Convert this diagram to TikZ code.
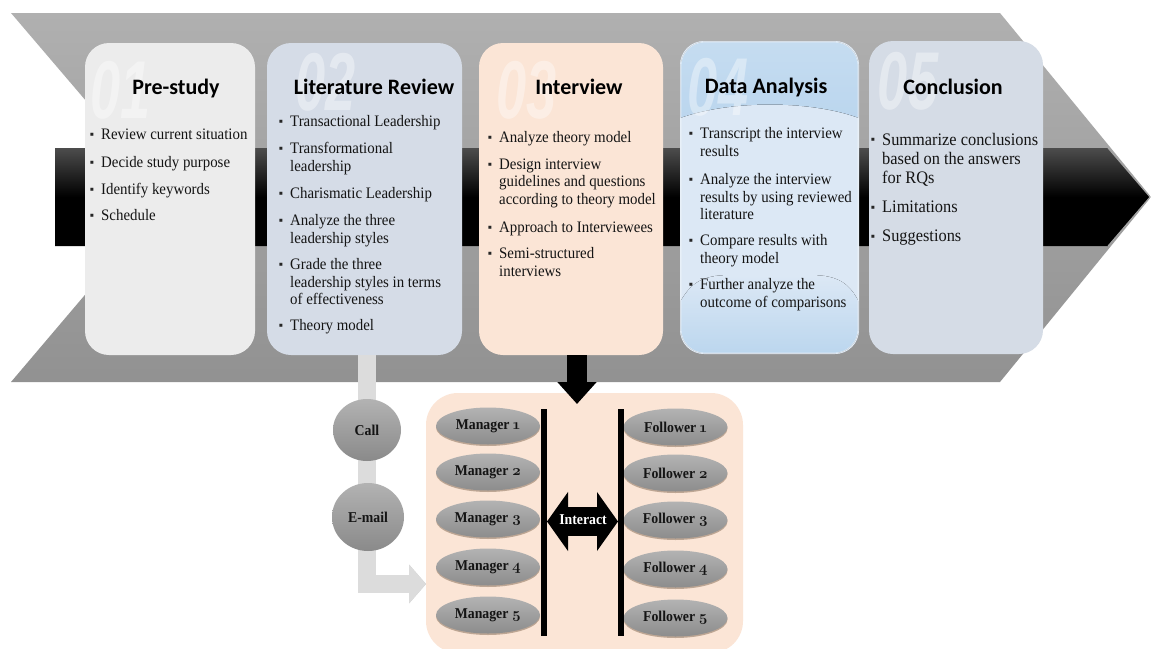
\documentclass[tikz,border=0pt]{standalone}
\usepackage{fontspec}
\setmainfont{Liberation Serif}
\newfontfamily\headf{Carlito}
\newfontfamily\ghostf{Liberation Sans}
\newfontfamily\bodyf[FakeStretch=0.93]{Liberation Serif}
\newfontfamily\labf[FakeStretch=0.92]{Liberation Serif}
\newfontfamily\osf[Numbers=OldStyle]{Latin Modern Roman}
\usetikzlibrary{shapes.geometric,arrows.meta,calc}
\definecolor{cardA}{HTML}{ECECEC}
\definecolor{cardB}{HTML}{D5DCE7}
\definecolor{cardC}{HTML}{FBE5D6}
\definecolor{cardD}{HTML}{DCE8F5}
\definecolor{cardE}{HTML}{D5DCE6}
\definecolor{glossD}{HTML}{BBD6EE}
\definecolor{lightconn}{HTML}{DCDCDC}
\pgfdeclareverticalshading{bargrad}{100bp}{color(0bp)=(black); color(50bp)=(black); color(75bp)=(black!70!white); color(100bp)=(black!70!white)}
\tikzset{
  card/.style={rounded corners=24pt,inner sep=0pt,draw=none},
  head/.style={font=\headf\bfseries\fontsize{22}{24}\selectfont,inner sep=0pt,text=black},
  ghost/.style={font=\ghostf\bfseries\itshape\fontsize{82}{82}\selectfont,text=white,text opacity=.38,inner sep=0pt},
  itm/.style={anchor=north west,inner sep=0pt,align=left,text=black!92!white,yshift=-3.5pt,font=\bodyf\fontsize{16}{17.4}\selectfont},
  itme/.style={itm,font=\bodyf\fontsize{17.6}{19}\selectfont},
  bul/.style={inner sep=0pt,yshift=-2pt,font=\fontsize{12}{12}\selectfont,text=black!85!white},
  oval/.style={ellipse,inner sep=0pt,minimum width=104pt,minimum height=37pt,top color=black!30!white,bottom color=black!45!white,font=\labf\bfseries\fontsize{15}{16}\selectfont,text=black!92!white},
  disc/.style={ellipse,inner sep=0pt,top color=black!30!white,bottom color=black!46!white,font=\labf\bfseries\fontsize{15}{16}\selectfont,text=black!92!white},
  shad/.style={ellipse,inner sep=0pt,minimum width=104pt,minimum height=37pt,fill=black!60!brown,opacity=.35},
  barline/.style={line width=6pt,black}
}
\newcommand{\ob}[2]{\node[itm] (#1) at (#2) }
\newcommand{\gn}[1]{\scalebox{.66}[1]{#1}}
\begin{document}
\begin{tikzpicture}[x=1pt,y=-1pt]
\useasboundingbox (0,0) rectangle (1151,648);
\clip (0,0) rectangle (1151,648);
\fill[white] (0,0) rectangle (1151,648);
% chevron
\path[top color=black!31!white,bottom color=black!43!white] (11,13) -- (1000,13) -- (1151,197) -- (1000,382) -- (11,382) -- (168,197) -- cycle;
% black bar
\path[shading=bargrad] (55,148) -- (1108,148) -- (1150,197) -- (1108,246) -- (55,246) -- cycle;
\draw[black!35!white,line width=1pt] (1108,148) -- (1150,197) -- (1108,246);
% cards
\node[card,fill=cardA,minimum width=170pt,minimum height=312pt] (c1) at (170,199) {};
\node[card,fill=cardB,minimum width=195pt,minimum height=312pt] (c2) at (364.5,199) {};
\node[card,fill=cardC,minimum width=184pt,minimum height=312pt] (c3) at (571,199) {};
\node[card,fill=cardD,minimum width=179pt,minimum height=313pt] (c4) at (769.5,197.5) {};
\node[card,fill=cardE,minimum width=174pt,minimum height=313pt] (c5) at (956,197.5) {};
% gloss of card 4
\begin{scope}
\clip[rounded corners=24pt] (680.8,41.8) rectangle (858.2,353.2);
\fill[top color=glossD!85!white,bottom color=glossD] (680,41) -- (859,41) -- (859,118) .. controls (810,100) and (730,100) .. (680,118) -- cycle;
\fill[top color=cardD,bottom color=glossD] (680,302) .. controls (690,285) and (700,275) .. (730,275) -- (810,275) .. controls (840,275) and (850,285) .. (859,302) -- (859,354) -- (680,354) -- cycle;
\end{scope}
\draw[white,opacity=.55,line width=1pt,rounded corners=24pt] (680.8,41.8) rectangle (858.2,353.2);
% ghost numerals
\node[ghost] (g1) at (121,90) {\gn{01}};
\node[ghost] (g2) at (326,82) {\gn{02}};
\node[ghost] (g3) at (527,90) {\gn{03}};
\node[ghost] (g4) at (718,87) {\gn{04}};
\node[ghost] (g5) at (908,81) {\gn{05}};
% headings
\node[head] (h1) at (176,89) {Pre-study};
\node[head] (h2) at (374,87) {Literature Review};
\node[head] (h3) at (579,87) {Interview};
\node[head] (h4) at (766,88) {Data Analysis};
\node[head] (h5) at (953,87) {Conclusion};
% card 1 items
\foreach \n/\y in {a/134,b/162,c/189,d/215}{\node[bul] (b1\n) at (92,\y) {▪};}
\ob{i1a}{101,125}{Review current situation};
\ob{i1b}{101,153}{Decide study purpose};
\ob{i1c}{101,180}{Identify keywords};
\ob{i1d}{101,206}{Schedule};
% card 2 items
\foreach \n/\y in {a/121,b/148,c/193,d/220,e/264,f/325}{\node[bul] (b2\n) at (281,\y) {▪};}
\ob{i2a}{290,112}{Transactional Leadership};
\ob{i2b}{290,139}{Transformational\\leadership};
\ob{i2c}{290,184}{Charismatic Leadership};
\ob{i2d}{290,211}{Analyze the three\\leadership styles};
\ob{i2e}{290,255}{Grade the three\\leadership styles in terms\\of effectiveness};
\ob{i2f}{290,316}{Theory model};
% card 3 items
\foreach \n/\y in {a/137,b/164,c/227,d/253}{\node[bul] (b3\n) at (490,\y) {▪};}
\ob{i3a}{499,128}{Analyze theory model};
\ob{i3b}{499,155}{Design interview\\guidelines and questions\\according to theory model};
\ob{i3c}{499,218}{Approach to Interviewees};
\ob{i3d}{499,244}{Semi-structured\\interviews};
% card 4 items
\foreach \n/\y in {a/133,b/179,c/240,d/284}{\node[bul] (b4\n) at (691,\y) {▪};}
\ob{i4a}{700,124}{Transcript the interview\\results};
\ob{i4b}{700,170}{Analyze the interview\\results by using reviewed\\literature};
\ob{i4c}{700,231}{Compare results with\\theory model};
\ob{i4d}{700,275}{Further analyze the\\outcome of comparisons};
% card 5 items
\foreach \n/\y in {a/139,b/207,c/236}{\node[bul] (b5\n) at (873,\y) {▪};}
\node[itme] (i5a) at (882,129.5) {Summarize conclusions\\based on the answers\\for RQs};
\node[itme] (i5b) at (882,197.5) {Limitations};
\node[itme] (i5c) at (882,226.5) {Suggestions};
% lower panel
\node[card,rounded corners=32pt,fill=cardC,minimum width=317pt,minimum height=260pt] (panel) at (584.5,523) {};
% connectors
\coordinate (entry) at (426,584);
\coordinate (ctr) at (367,430);
\coordinate (itop) at (577,355);
\coordinate (itip) at (577,404);
\draw[black,opacity=.22,xshift=1.5pt,yshift=-2pt,line width=18pt,-{Triangle[width=38pt,length=17pt,sep=0pt]}] (c2.south -| ctr) |- (entry);
\draw[lightconn,line width=18pt,-{Triangle[width=38pt,length=17pt,sep=0pt]}] (c2.south -| ctr) |- (entry);
\draw[black,line width=20pt,-{Triangle[width=38pt,length=22pt,sep=0pt]}] (itop) -- (itip);
\node[disc,minimum width=68pt,minimum height=62pt] (call) at (ctr) {Call};
\node[disc,minimum width=72pt,minimum height=68pt] (email) at (368,517) {E-mail};
% ovals
\foreach \nm/\y in {a/426,b/472,c/519,d/567,e/615}{\node[shad] (ms\nm) at (488,\y+1.5) {};}
\foreach \nm/\y in {a/427,b/473,c/520,d/569,e/618}{\node[shad] (fs\nm) at (675.5,\y+1.5) {};}
\node[oval] (m1) at (488,426) {Manager {\osf 1}};
\node[oval] (m2) at (488,472) {Manager {\osf 2}};
\node[oval] (m3) at (488,519) {Manager {\osf 3}};
\node[oval] (m4) at (488,567) {Manager {\osf 4}};
\node[oval] (m5) at (488,615) {Manager {\osf 5}};
\node[oval] (f1) at (675.5,427) {Follower {\osf 1}};
\node[oval] (f2) at (675.5,473) {Follower {\osf 2}};
\node[oval] (f3) at (675.5,520) {Follower {\osf 3}};
\node[oval] (f4) at (675.5,569) {Follower {\osf 4}};
\node[oval] (f5) at (675.5,618) {Follower {\osf 5}};
% bars
\coordinate (lt) at (544,409); \coordinate (lb) at (544,636);
\coordinate (rt) at (621,409); \coordinate (rb) at (621,636);
\draw[barline] (lt) -- (lb);
\draw[barline] (rt) -- (rb);
% interact
\coordinate (il) at (547,521.5); \coordinate (ir) at (618,521.5);
\draw[black,line width=29pt,{Triangle[width=58pt,length=21pt,sep=0pt]}-{Triangle[width=58pt,length=21pt,sep=0pt]}] (il) -- (ir);
\node[inner sep=0pt,text=white,font=\labf\bfseries\fontsize{15}{16}\selectfont] (inter) at (583,520) {Interact};
\end{tikzpicture}
\end{document}
